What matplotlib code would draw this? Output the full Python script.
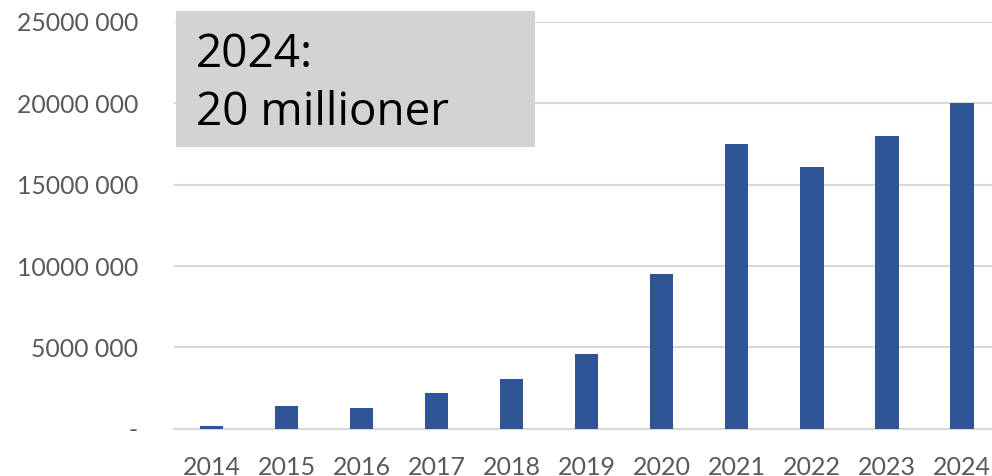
import matplotlib
matplotlib.use("Agg")
import matplotlib.pyplot as plt
from matplotlib.patches import Rectangle

years = ["2014", "2015", "2016", "2017", "2018", "2019", "2020", "2021", "2022", "2023", "2024"]
values = [180000, 1380000, 1270000, 2190000, 3050000, 4590000, 9510000, 17500000, 16080000, 17970000, 20000000]
ytick_values = [0, 5000000, 10000000, 15000000, 20000000, 25000000]
ytick_labels = ["-", "5000 000", "10000 000", "15000 000", "20000 000", "25000 000"]
annotation_lines = ["2024:", "20 millioner"]

plt.rcParams['font.family'] = ['Lato', 'DejaVu Sans']

fig = plt.figure(figsize=(9.92, 4.76), dpi=100)
ax = fig.add_axes([174/992, 1-428.7/476, 1-174/992, (428.7-22)/476])

x = list(range(len(years)))
ax.bar(x, values, width=0.31, color="#2f5597", zorder=3)
ax.set_xlim(-0.5, 10.4)
ax.set_ylim(0, 25000000)
ax.set_yticks(ytick_values)
ax.set_yticklabels(ytick_labels)
ax.set_xticks(x)
ax.set_xticklabels(years)
ax.tick_params(axis='y', length=0, labelsize=17.8, colors="#595959", pad=26)
ax.tick_params(axis='x', length=0, labelsize=18, colors="#595959", pad=20)
ax.grid(axis='y', color="#d9d9d9", linewidth=1.5, zorder=0)
for s in ["top", "right", "left"]:
    ax.spines[s].set_visible(False)
ax.spines["bottom"].set_color("#d9d9d9")
ax.spines["bottom"].set_linewidth(1.5)

fig.patches.append(Rectangle((176/992, 1-147/476), 359/992, 136/476,
                             transform=fig.transFigure, facecolor="#d3d3d3",
                             edgecolor="none", zorder=5))
baselines = [67, 125]
for line, by in zip(annotation_lines, baselines):
    fig.text(196/992, 1-by/476, line, fontsize=33, color="black",
             va="baseline", ha="left", zorder=6,
             family=['Open Sans', 'DejaVu Sans'])

fig.savefig("out.png", dpi=100)
